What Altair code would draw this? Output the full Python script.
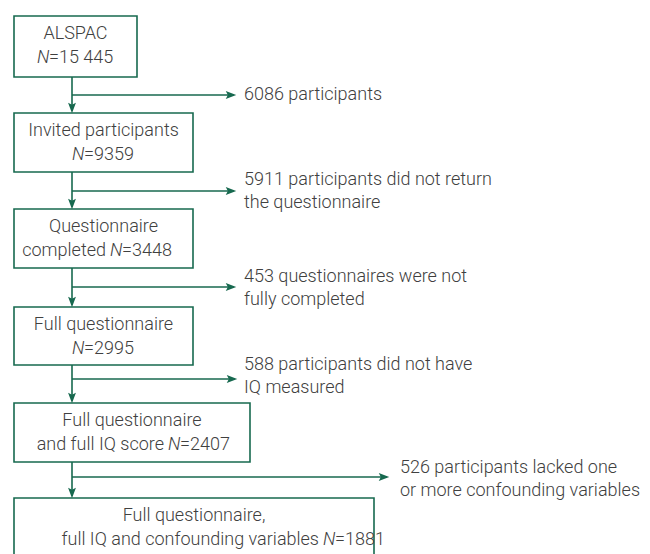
import altair as alt
import pandas as pd

# ---- content ----
box_line1 = ["ALSPAC", "Invited participants", "Questionnaire", "Full questionnaire",
             "Full questionnaire", "Full questionnaire,"]
box_line2_prefix = ["", "", "completed", "", "and full IQ score", "full IQ and confounding variables"]
box_n = ["15 445", "9359", "3448", "2995", "2407", "1881"]
excluded_lines = [
    ["6086 participants"],
    ["5911 participants did not return", "the questionnaire"],
    ["453 questionnaires were not", "fully completed"],
    ["588 participants did not have", "IQ measured"],
    ["526 participants lacked one", "or more confounding variables"],
]

# ---- layout ----
GREEN = "#17694f"
TEXT = "#404040"
FONT = "Roboto"
FS = 18
box_left = 14
box_top = [16, 113, 209, 307, 403, 498]
box_bottom = [77, 172, 268, 365, 462, 600]
box_right = [137, 193, 193, 193, 250, 374]
n_anchor = [37, 72, 110, 72, 168, 323]
branch_y = [95, 191, 287, 379, 477]
branch_tip = [236, 236, 236, 237, 389]
side_x = [244, 244, 244, 244, 400]
side_y = [95, 180, 277, 365, 468]
line_gap = 22.5
trunk_x = 72
H = 546

xs = alt.Scale(domain=[8, 642], nice=False, zero=False)
ys = alt.Scale(domain=[8, 8 + H], nice=False, zero=False, reverse=True)

def X(f="x"):
    return alt.X(f"{f}:Q", scale=xs, axis=None)

def Y(f="y"):
    return alt.Y(f"{f}:Q", scale=ys, axis=None)

boxes = pd.DataFrame({
    "x": [box_left] * 6, "x2": box_right, "y": box_top, "y2": box_bottom,
})
rects = alt.Chart(boxes).mark_rect(fill="white", stroke=GREEN, strokeWidth=1.6, clip=True).encode(
    x=X(), x2="x2:Q", y=Y(), y2="y2:Q")

# connector lines
segs = []
for i in range(5):
    segs.append({"x": trunk_x, "x2": trunk_x, "y": box_bottom[i], "y2": box_top[i + 1] - 2})
    segs.append({"x": trunk_x, "x2": branch_tip[i] - 2, "y": branch_y[i], "y2": branch_y[i]})
rules = alt.Chart(pd.DataFrame(segs)).mark_rule(color=GREEN, strokeWidth=1.6).encode(
    x=X(), x2="x2:Q", y=Y(), y2="y2:Q")

down = pd.DataFrame({"x": [trunk_x] * 5, "y": [t - 5 for t in box_top[1:]]})
right = pd.DataFrame({"x": [t - 5 for t in branch_tip], "y": branch_y})
head_down = alt.Chart(down).mark_point(
    shape="M-0.75,-1L0,-0.6L0.75,-1L0,1Z", filled=True, size=110, color=GREEN, opacity=1
).encode(x=X(), y=Y())
head_right = alt.Chart(right).mark_point(
    shape="M-1,-0.75L-0.6,0L-1,0.75L1,0Z", filled=True, size=110, color=GREEN, opacity=1
).encode(x=X(), y=Y())

# box texts
center_rows, prefix_rows, n_rows, suffix_rows = [], [], [], []
for i in range(6):
    cx = (box_left + box_right[i]) / 2
    center_rows.append({"x": cx, "y": box_top[i] + 18, "t": box_line1[i]})
    if box_line2_prefix[i]:
        prefix_rows.append({"x": n_anchor[i] - 4, "y": box_top[i] + 42, "t": box_line2_prefix[i]})
    n_rows.append({"x": n_anchor[i], "y": box_top[i] + 42, "t": "N"})
    suffix_rows.append({"x": n_anchor[i] + 12, "y": box_top[i] + 42, "t": "=" + box_n[i]})

side_rows = []
for i, lines in enumerate(excluded_lines):
    for j, line in enumerate(lines):
        side_rows.append({"x": side_x[i], "y": side_y[i] + j * line_gap, "t": line})

tkw = dict(font=FONT, fontSize=FS, fontWeight=300, color=TEXT, baseline="middle")
t_center = alt.Chart(pd.DataFrame(center_rows)).mark_text(align="center", **tkw).encode(
    x=X(), y=Y(), text="t:N")
t_prefix = alt.Chart(pd.DataFrame(prefix_rows)).mark_text(align="right", **tkw).encode(
    x=X(), y=Y(), text="t:N")
t_n = alt.Chart(pd.DataFrame(n_rows)).mark_text(align="left", fontStyle="italic", **tkw).encode(
    x=X(), y=Y(), text="t:N")
t_suffix = alt.Chart(pd.DataFrame(suffix_rows)).mark_text(align="left", **tkw).encode(
    x=X(), y=Y(), text="t:N")
t_side = alt.Chart(pd.DataFrame(side_rows)).mark_text(align="left", **tkw).encode(
    x=X(), y=Y(), text="t:N")

chart = alt.layer(rules, rects, head_down, head_right, t_center, t_prefix, t_n, t_suffix, t_side).properties(
    width=634, height=H, padding=0, autosize=alt.AutoSizeParams(type="none"),
    background="white",
).configure_view(strokeWidth=0)

chart.save("out.html", embed_options={"renderer": "svg", "actions": False})
